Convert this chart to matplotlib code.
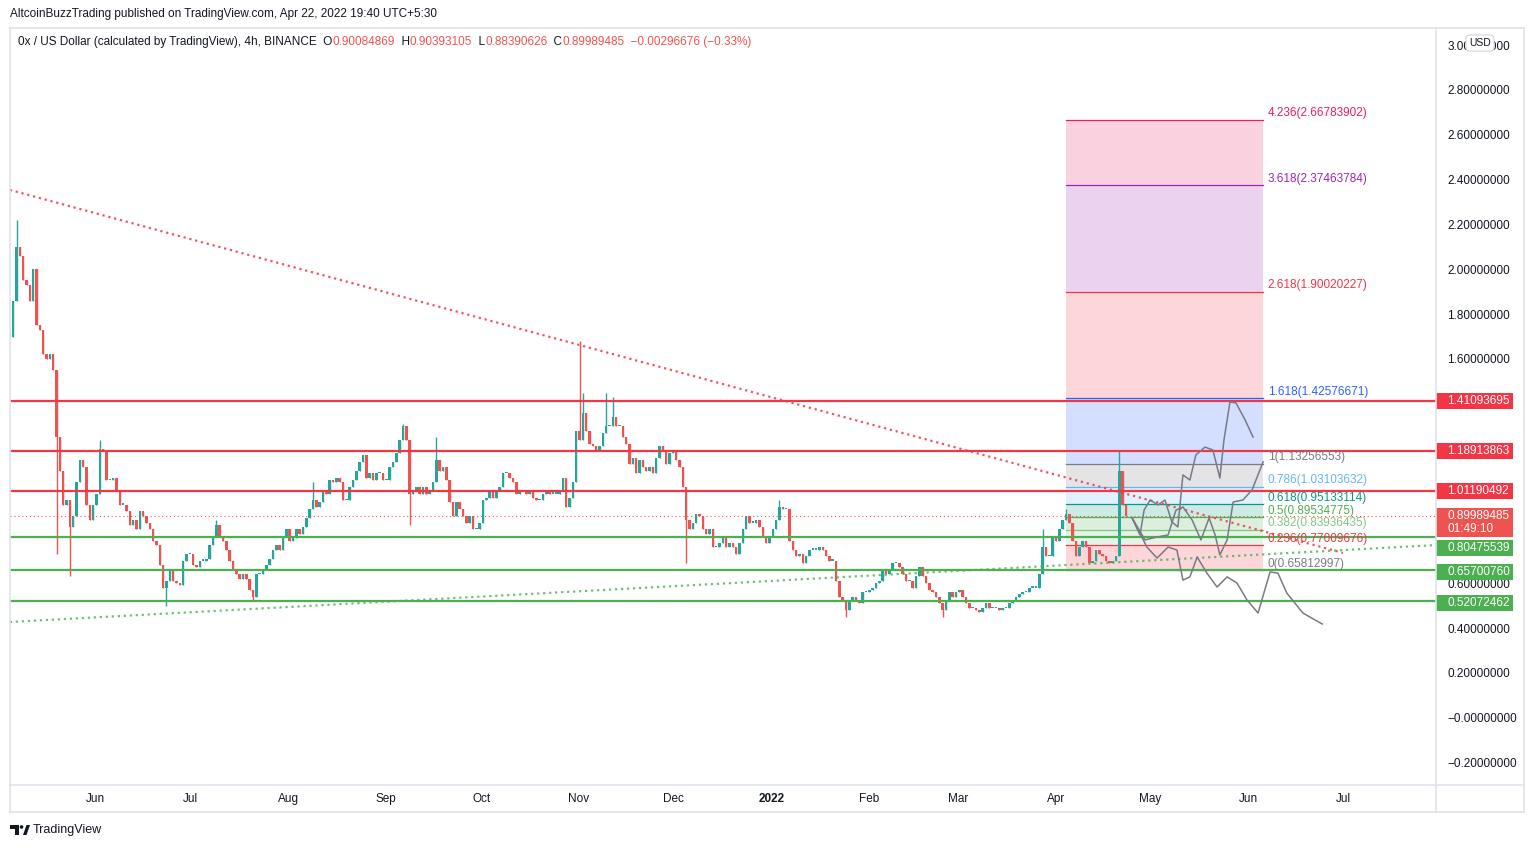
import matplotlib
matplotlib.use("Agg")
import matplotlib.pyplot as plt
import matplotlib.dates as mdates
from matplotlib.patches import Rectangle, Polygon, Circle
from matplotlib.lines import Line2D
from matplotlib.transforms import blended_transform_factory, IdentityTransform
import numpy as np
import pandas as pd

plt.rcParams['font.family'] = ['Liberation Sans', 'DejaVu Sans']

# ---- price data, sampled about once a day off the 4h chart ----
first_bar = "2021-05-04 18:00"
last_bar = "2022-04-23 06:00"
closes = [
    1.70, 1.86, 2.10, 2.06, 1.95, 1.93, 1.86, 2.00, 1.75, 1.73,
    1.62, 1.60, 1.62, 1.55, 1.25, 1.10, 0.95, 0.97, 0.85, 0.90,
    1.05, 1.15, 1.12, 0.95, 0.88, 0.95, 1.00, 1.20, 1.19, 1.06,
    1.06, 1.07, 1.01, 0.95, 0.95, 0.92, 0.86, 0.88, 0.84, 0.92,
    0.90, 0.87, 0.84, 0.79, 0.77, 0.68, 0.58, 0.61, 0.66, 0.61,
    0.60, 0.59, 0.70, 0.73, 0.73, 0.68, 0.67, 0.70, 0.70, 0.71,
    0.77, 0.81, 0.86, 0.81, 0.79, 0.75, 0.70, 0.66, 0.64, 0.62,
    0.64, 0.62, 0.57, 0.54, 0.64, 0.64, 0.66, 0.68, 0.71, 0.75,
    0.77, 0.75, 0.81, 0.84, 0.79, 0.80, 0.84, 0.82, 0.85, 0.89,
    0.93, 0.97, 0.94, 0.96, 1.01, 1.00, 1.06, 1.05, 1.07, 1.05,
    0.97, 0.97, 1.03, 1.06, 1.10, 1.14, 1.17, 1.07, 1.09, 1.06,
    1.09, 1.09, 1.06, 1.06, 1.12, 1.14, 1.18, 1.24, 1.30, 1.24,
    1.00, 1.01, 1.03, 1.00, 1.03, 1.00, 1.01, 1.05, 1.15, 1.10,
    1.12, 1.06, 0.96, 0.90, 0.96, 0.93, 0.90, 0.87, 0.90, 0.84,
    0.84, 0.87, 0.97, 0.98, 1.01, 0.98, 1.01, 1.03, 1.09, 1.09,
    1.07, 1.05, 1.00, 1.01, 1.01, 1.00, 1.01, 0.98, 0.97, 0.97,
    1.00, 1.01, 1.00, 1.00, 1.00, 1.01, 1.07, 0.94, 0.98, 1.05,
    1.28, 1.24, 1.36, 1.28, 1.22, 1.21, 1.19, 1.21, 1.27, 1.30,
    1.30, 1.34, 1.30, 1.30, 1.25, 1.22, 1.13, 1.16, 1.09, 1.15,
    1.12, 1.10, 1.12, 1.09, 1.16, 1.21, 1.19, 1.13, 1.18, 1.19,
    1.15, 1.12, 1.03, 0.88, 0.84, 0.87, 0.91, 0.90, 0.84, 0.82,
    0.84, 0.76, 0.76, 0.78, 0.80, 0.76, 0.78, 0.76, 0.73, 0.78,
    0.84, 0.90, 0.87, 0.87, 0.88, 0.85, 0.81, 0.78, 0.81, 0.84,
    0.88, 0.94, 0.93, 0.93, 0.79, 0.75, 0.72, 0.73, 0.69, 0.72,
    0.75, 0.75, 0.75, 0.76, 0.75, 0.72, 0.70, 0.70, 0.61, 0.54,
    0.52, 0.48, 0.52, 0.54, 0.52, 0.51, 0.56, 0.56, 0.57, 0.58,
    0.60, 0.61, 0.66, 0.64, 0.66, 0.69, 0.69, 0.67, 0.64, 0.61,
    0.61, 0.58, 0.63, 0.67, 0.63, 0.60, 0.57, 0.56, 0.54, 0.51,
    0.48, 0.52, 0.56, 0.54, 0.56, 0.57, 0.54, 0.51, 0.49, 0.49,
    0.48, 0.47, 0.49, 0.51, 0.49, 0.49, 0.49, 0.48, 0.49, 0.49,
    0.51, 0.52, 0.54, 0.55, 0.56, 0.56, 0.58, 0.58, 0.58, 0.64,
    0.76, 0.72, 0.72, 0.81, 0.79, 0.84, 0.88, 0.91, 0.87, 0.79,
    0.72, 0.76, 0.79, 0.76, 0.69, 0.70, 0.75, 0.73, 0.72, 0.70,
    0.69, 0.70, 0.72, 1.10, 0.95, 0.90,
]
# long wicks that stick out of the sampled bodies
wick_extremes = [
    ("2021-05-07 07:00", 2.22), ("2021-05-19 14:00", 0.73), ("2021-05-23 19:00", 0.63),
    ("2021-06-02 07:00", 1.24), ("2021-06-22 21:00", 0.50), ("2021-07-09 07:00", 0.88),
    ("2021-07-20 17:00", 0.52), ("2021-08-08 17:00", 1.05), ("2021-09-06 05:00", 1.31),
    ("2021-09-08 12:00", 0.86), ("2021-09-17 00:00", 1.25), ("2021-10-31 17:00", 1.68),
    ("2021-11-02 07:00", 1.45), ("2021-11-09 21:00", 1.45), ("2021-11-11 19:00", 1.43),
    ("2021-12-04 14:00", 0.69), ("2022-01-03 17:00", 0.97), ("2022-01-24 21:00", 0.45),
    ("2022-02-24 07:00", 0.45), ("2022-03-28 00:00", 0.84), ("2022-04-04 07:00", 0.93),
    ("2022-04-21 10:00", 1.19),
]

red_levels = [1.41093695, 1.18913863, 1.01190492]
green_levels = [0.80475539, 0.65700760, 0.52072462]
last_price = 0.89989485
countdown = "01:49:10"

fib_ratios = [0, 0.236, 0.382, 0.5, 0.618, 0.786, 1, 1.618, 2.618, 3.618, 4.236]
fib_prices = [0.65812997, 0.77009676, 0.83936435, 0.89534775, 0.95133114, 1.03103632,
              1.13256553, 1.42576671, 1.90020227, 2.37463784, 2.66783902]
fib_colors = ["#787b86", "#f23645", "#81c784", "#4caf50", "#089981", "#64b5f6",
              "#787b86", "#2962ff", "#f23645", "#9c27b0", "#e91e63"]
fib_start, fib_end = "2022-04-04 08:00", "2022-06-05 16:00"

red_trend_dates = ["2021-05-04 18:00", "2022-07-01 00:00"]
red_trend_prices = [2.354, 0.735]
green_trend_dates = ["2021-05-04 18:00", "2022-07-30 11:00"]
green_trend_prices = [0.427, 0.770]

# hand drawn scenario paths: days after Apr 22 2022, price
proj_base = "2022-04-22"
proj1_days = [3.2, 5.7, 7.0, 8.9, 11.4, 13.6, 15.8, 17.7, 19.3, 21.5, 23.4, 26.3, 28.8, 31.0, 32.3, 34.2, 36.1, 39.0, 41.5]
proj1_price = [0.891, 0.815, 0.926, 0.971, 0.949, 0.971, 0.873, 0.851, 1.083, 1.060, 1.172, 1.207, 1.194, 1.069, 1.239, 1.408, 1.404, 1.328, 1.252]
proj2_days = [3.2, 7.3, 11.1, 14.6, 17.1, 19.3, 22.2, 25.0, 27.6, 29.5, 31.0, 33.3, 35.2, 38.3, 41.2, 44.7]
proj2_price = [0.891, 0.793, 0.806, 0.815, 0.926, 0.940, 0.882, 0.793, 0.891, 0.815, 0.726, 0.793, 0.962, 0.971, 1.016, 1.141]
proj3_days = [3.2, 7.9, 11.1, 14.6, 17.4, 19.3, 21.5, 23.8, 26.9, 30.1, 33.3, 36.4, 39.6, 43.1, 46.9, 49.4, 52.2, 57.3, 63.4]
proj3_price = [0.891, 0.761, 0.712, 0.761, 0.748, 0.614, 0.628, 0.717, 0.645, 0.583, 0.628, 0.601, 0.525, 0.467, 0.650, 0.645, 0.556, 0.467, 0.418]

month_dates = ["2021-06-01", "2021-07-01", "2021-08-01", "2021-09-01", "2021-10-01", "2021-11-01",
               "2021-12-01", "2022-01-01", "2022-02-01", "2022-03-01", "2022-04-01", "2022-05-01",
               "2022-06-01", "2022-07-01"]
month_labels = ["Jun", "Jul", "Aug", "Sep", "Oct", "Nov", "Dec", "2022", "Feb", "Mar", "Apr", "May", "Jun", "Jul"]
price_ticks = [3.0, 2.8, 2.6, 2.4, 2.2, 2.0, 1.8, 1.6, 0.6, 0.4, 0.2, 0.0, -0.2]

UP, DOWN = "#26a69a", "#ef5350"
RED, GREEN = "#f23645", "#4caf50"
TXT = "#131722"
BORDER = "#e0e3eb"
FS = 8.5


def num(d):
    return mdates.date2num(pd.Timestamp(d).to_pydatetime())


W, H = 1534, 848
fig = plt.figure(figsize=(W / 100, H / 100), dpi=100)
ax = fig.add_axes([10 / W, 1 - 785 / H, 1426 / W, 757 / H])
ax.set_xlim(num("2021-05-04 19:00"), num("2022-07-30 11:00"))
ax.set_ylim(-0.300, 3.076)
px_per_unit = 757 / (3.076 + 0.300)

# candles
t = mdates.date2num(pd.date_range(first_bar, last_bar, periods=len(closes)).to_pydatetime())
c = np.array(closes)
o = np.r_[c[0], c[:-1]]
hi = np.maximum(o, c)
lo = np.minimum(o, c)
for d, p in wick_extremes:
    i = np.argmin(np.abs(t - num(d)))
    hi[i] = max(hi[i], p)
    lo[i] = min(lo[i], p)
cols = np.where(c >= o, UP, DOWN)
ax.vlines(t, lo, hi, colors=cols, lw=1.0, zorder=3)
ax.bar(t, np.maximum(np.abs(c - o), 0.006), bottom=np.minimum(o, c), width=0.8,
       color=cols, linewidth=0, zorder=3)

# fibonacci extension box
x0, x1 = num(fib_start), num(fib_end)
for k in range(len(fib_prices)):
    if k > 0:
        ax.add_patch(Rectangle((x0, fib_prices[k - 1]), x1 - x0, fib_prices[k] - fib_prices[k - 1],
                               facecolor=fib_colors[k], alpha=0.2, edgecolor="none", zorder=1))
    ax.plot([x0, x1], [fib_prices[k]] * 2, color=fib_colors[k], lw=0.9, zorder=2)
    ax.annotate(f"{fib_ratios[k]:g}({fib_prices[k]:.8f})", xy=(x1, fib_prices[k]),
                xytext=(3.5, 0.3), textcoords="offset points", ha="left", va="bottom",
                color=fib_colors[k], fontsize=FS, zorder=6)

# support / resistance
for p in red_levels:
    ax.axhline(p, color=RED, lw=1.6, zorder=4)
for p in green_levels:
    ax.axhline(p, color=GREEN, lw=1.6, zorder=4)
ax.axhline(last_price, color=DOWN, lw=0.8, ls=(0, (1, 2.5)), zorder=4)

# trend lines
ax.plot([num(d) for d in red_trend_dates], red_trend_prices, color=RED, alpha=0.85,
        lw=1.6, ls=(0, (1, 1.7)), zorder=5)
ax.plot([num(d) for d in green_trend_dates], green_trend_prices, color=GREEN, alpha=0.8,
        lw=1.6, ls=(0, (1, 1.7)), zorder=5)

# scenario paths
base = num(proj_base)
for dd, pp in [(proj1_days, proj1_price), (proj2_days, proj2_price), (proj3_days, proj3_price)]:
    ax.plot(base + np.array(dd), pp, color="#787b86", lw=1.1, zorder=5, solid_joinstyle="round")

# axes styling
for s in ax.spines.values():
    s.set_visible(False)
ax.yaxis.tick_right()
ax.set_yticks(price_ticks)
ax.set_yticklabels(["−0.00000000" if v == 0 else f"{v:.8f}".replace("-", "−") for v in price_ticks])
ax.tick_params(axis="y", length=0, pad=8, labelsize=FS, labelcolor=TXT)
ax.set_xticks([num(d) for d in month_dates])
ax.set_xticklabels(month_labels)
ax.tick_params(axis="x", length=0, pad=6, labelsize=FS, labelcolor=TXT)
for lab in ax.get_xticklabels():
    if lab.get_text() == "2022":
        lab.set_fontweight("bold")

# price labels on the scale (TradingView nudges crowded ones apart)
bt = blended_transform_factory(ax.transAxes, ax.transData)
bw = 77 / 1426
half = 8 / px_per_unit
label_nudge_px = {0.80475539: -11, 0.65700760: -2, 0.52072462: -2}
for p, colr in [(v, RED) for v in red_levels] + [(v, GREEN) for v in green_levels]:
    yc = p + label_nudge_px.get(p, 0) / px_per_unit
    ax.add_patch(Rectangle((1.0, yc - half), bw, 2 * half, transform=bt, facecolor=colr,
                           edgecolor="none", clip_on=False, zorder=7))
    ax.text(1.0 + 11 / 1426, yc, f"{p:.8f}", transform=bt, color="white", fontsize=FS,
            ha="left", va="center", clip_on=False, zorder=8)
ax.add_patch(Rectangle((1.0, last_price - 21 / px_per_unit), bw, 29 / px_per_unit, transform=bt,
                       facecolor="#ef5350", edgecolor="none", clip_on=False, zorder=7))
ax.text(1.0 + 11 / 1426, last_price, f"{last_price:.8f}", transform=bt, color="white",
        fontsize=FS, ha="left", va="center", clip_on=False, zorder=8)
ax.text(1.0 + 11 / 1426, last_price - 13 / px_per_unit, countdown, transform=bt, color="white",
        fontsize=FS, ha="left", va="center", clip_on=False, zorder=8)

# panel frame and separators
fx = lambda x: x / W
fy = lambda y: 1 - y / H
for xs, ys in [((10, 1524), (28, 28)), ((10, 1524), (812, 812)), ((10, 10), (28, 812)),
               ((1524, 1524), (28, 812)), ((1436, 1436), (28, 812)), ((10, 1524), (785, 785))]:
    fig.add_artist(Line2D([fx(xs[0]), fx(xs[1])], [fy(ys[0]), fy(ys[1])], color=BORDER, lw=1.2))

fig.text(fx(10), fy(14), "AltcoinBuzzTrading published on TradingView.com, Apr 22, 2022 19:40 UTC+5:30",
         fontsize=FS, color=TXT, va="center", ha="left")
fig.text(fx(1480), fy(43), "USD", fontsize=7.5, color=TXT, ha="center", va="center", zorder=9,
         bbox=dict(boxstyle="round,pad=0.3,rounding_size=0.4", fc="white", ec="#d1d4dc", lw=0.8))

# legend line with coloured values
pieces = [("0x / US Dollar (calculated by TradingView), 4h, BINANCE  O", TXT), ("0.90084869", DOWN),
          ("  H", TXT), ("0.90393105", DOWN), ("  L", TXT), ("0.88390626", DOWN), ("  C", TXT),
          ("0.89989485", DOWN), ("  −0.00296676 (−0.33%)", DOWN)]
prev = fig.text(fx(18), fy(42), pieces[0][0], fontsize=FS, color=pieces[0][1], va="center", ha="left")
for s, colr in pieces[1:]:
    prev = ax.annotate(s, xy=(1, 0), xycoords=prev, ha="left", va="bottom", fontsize=FS,
                       color=colr, annotation_clip=False)

# TradingView logo
idt = IdentityTransform()
fig.add_artist(Polygon([(10, H - 825), (19, H - 825), (19, H - 835), (15, H - 835), (15, H - 829), (10, H - 829)],
                       closed=True, transform=idt, facecolor=TXT, edgecolor="none"))
fig.add_artist(Circle((21.5, H - 827), 1.8, transform=idt, facecolor=TXT, edgecolor="none"))
fig.add_artist(Polygon([(23, H - 835), (26.5, H - 835), (30, H - 825), (26.5, H - 825)],
                       closed=True, transform=idt, facecolor=TXT, edgecolor="none"))
fig.text(fx(33), fy(830), "TradingView", fontsize=9, color=TXT, va="center", ha="left")

fig.savefig("out.png", dpi=100)
